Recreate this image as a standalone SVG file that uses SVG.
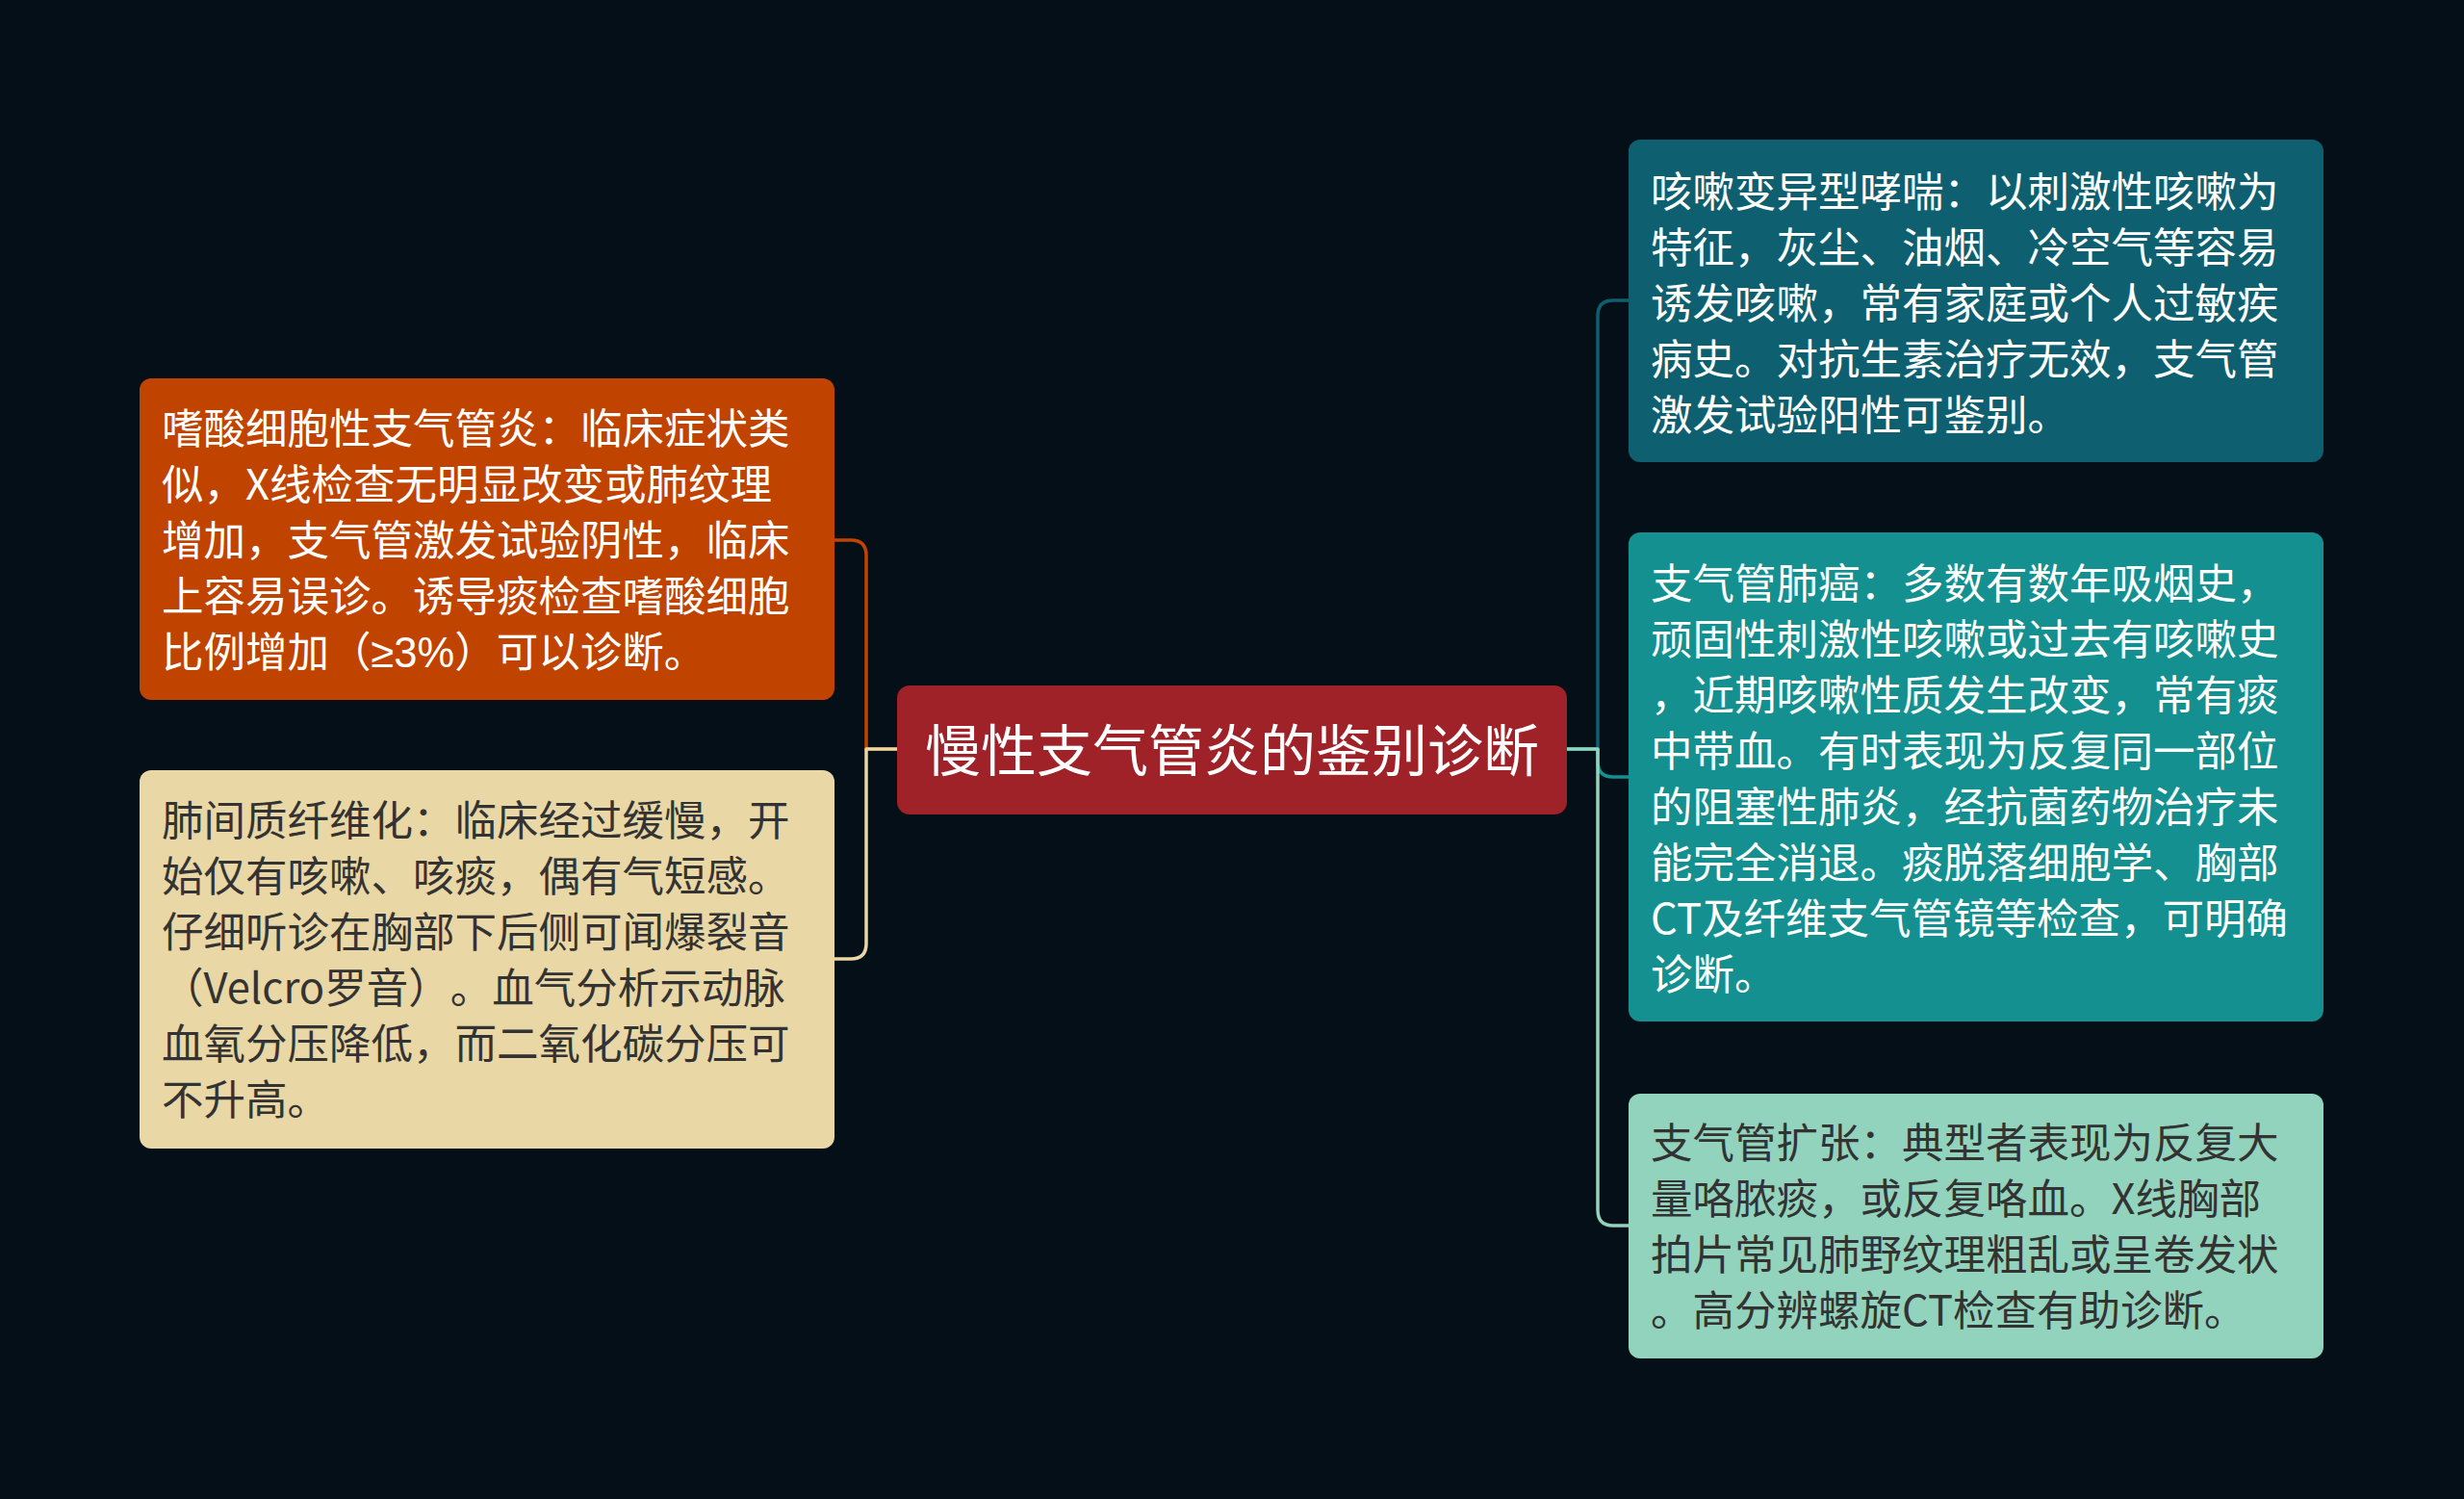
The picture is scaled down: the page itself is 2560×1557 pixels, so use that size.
<svg xmlns="http://www.w3.org/2000/svg" width="2560" height="1557" viewBox="0 0 2560 1557">
<style>
  .t { font-family: "Noto Sans CJK SC", "Noto Sans", sans-serif; font-size: 43.5px; text-spacing-trim: space-all; }
  .w { fill: #ffffff; }
  .d { fill: #333333; }
  .l { font-family: "Liberation Sans", "DejaVu Sans", sans-serif; }
  .c { fill: none; stroke-width: 3.5; stroke-linejoin: round; }
</style>
<rect x="0" y="0" width="2560" height="1557" fill="#040f17"/>
<g id="connectors">
  <path class="c" stroke="#c04300" d="M932 778 H900 V577 Q900 561 884 561 H867"/>
  <path class="c" stroke="#e9d7a5" d="M932 778 H900 V980 Q900 996 884 996 H867"/>
  <path class="c" stroke="#0e6070" d="M1628 778 H1660 V328 Q1660 312 1676 312 H1692"/>
  <path class="c" stroke="#13908f" d="M1628 778 H1660 V791 Q1660 807 1676 807 H1692"/>
  <path class="c" stroke="#92d3bd" d="M1628 778 H1660 V1257 Q1660 1273 1676 1273 H1692"/>
</g>
<g id="center">
  <rect x="932" y="712" width="696" height="134" rx="13" fill="#9e2228"/>
  <text x="1280" y="801" text-anchor="middle" class="w" style="font-family: 'Noto Sans CJK SC', sans-serif; font-size: 58px;">慢性支气管炎的鉴别诊断</text>
</g>
<g id="node-eosinophilic">
  <rect x="145" y="393" width="722" height="334" rx="12" fill="#c04300"/>
  <text class="t w">
    <tspan x="168" y="461">嗜酸细胞性支气管炎：临床症状类</tspan>
    <tspan x="168" y="519">似，X线检查无明显改变或肺纹理</tspan>
    <tspan x="168" y="577">增加，支气管激发试验阴性，临床</tspan>
    <tspan x="168" y="635">上容易误诊。诱导痰检查嗜酸细胞</tspan>
    <tspan x="168" y="693">比例增加（<tspan class="l">≥3%</tspan>）可以诊断。</tspan>
  </text>
</g>
<g id="node-fibrosis">
  <rect x="145" y="800" width="722" height="393" rx="12" fill="#e9d7a5"/>
  <text class="t d">
    <tspan x="168" y="868">肺间质纤维化：临床经过缓慢，开</tspan>
    <tspan x="168" y="926">始仅有咳嗽、咳痰，偶有气短感。</tspan>
    <tspan x="168" y="984">仔细听诊在胸部下后侧可闻爆裂音</tspan>
    <tspan x="168" y="1042">（Velcro罗音）。血气分析示动脉</tspan>
    <tspan x="168" y="1100">血氧分压降低，而二氧化碳分压可</tspan>
    <tspan x="168" y="1158">不升高。</tspan>
  </text>
</g>
<g id="node-asthma">
  <rect x="1692" y="145" width="722" height="335" rx="12" fill="#0e6070"/>
  <text class="t w">
    <tspan x="1715" y="215">咳嗽变异型哮喘：以刺激性咳嗽为</tspan>
    <tspan x="1715" y="273">特征，灰尘、油烟、冷空气等容易</tspan>
    <tspan x="1715" y="331">诱发咳嗽，常有家庭或个人过敏疾</tspan>
    <tspan x="1715" y="389">病史。对抗生素治疗无效，支气管</tspan>
    <tspan x="1715" y="447">激发试验阳性可鉴别。</tspan>
  </text>
</g>
<g id="node-cancer">
  <rect x="1692" y="553" width="722" height="508" rx="12" fill="#13908f"/>
  <text class="t w">
    <tspan x="1715" y="622">支气管肺癌：多数有数年吸烟史，</tspan>
    <tspan x="1715" y="680">顽固性刺激性咳嗽或过去有咳嗽史</tspan>
    <tspan x="1715" y="738">，近期咳嗽性质发生改变，常有痰</tspan>
    <tspan x="1715" y="796">中带血。有时表现为反复同一部位</tspan>
    <tspan x="1715" y="854">的阻塞性肺炎，经抗菌药物治疗未</tspan>
    <tspan x="1715" y="912">能完全消退。痰脱落细胞学、胸部</tspan>
    <tspan x="1715" y="970">CT及纤维支气管镜等检查，可明确</tspan>
    <tspan x="1715" y="1028">诊断。</tspan>
  </text>
</g>
<g id="node-bronchiectasis">
  <rect x="1692" y="1136" width="722" height="275" rx="12" fill="#92d3bd"/>
  <text class="t d">
    <tspan x="1715" y="1203">支气管扩张：典型者表现为反复大</tspan>
    <tspan x="1715" y="1261">量咯脓痰，或反复咯血。X线胸部</tspan>
    <tspan x="1715" y="1319">拍片常见肺野纹理粗乱或呈卷发状</tspan>
    <tspan x="1715" y="1377">。高分辨螺旋CT检查有助诊断。</tspan>
  </text>
</g>
</svg>
